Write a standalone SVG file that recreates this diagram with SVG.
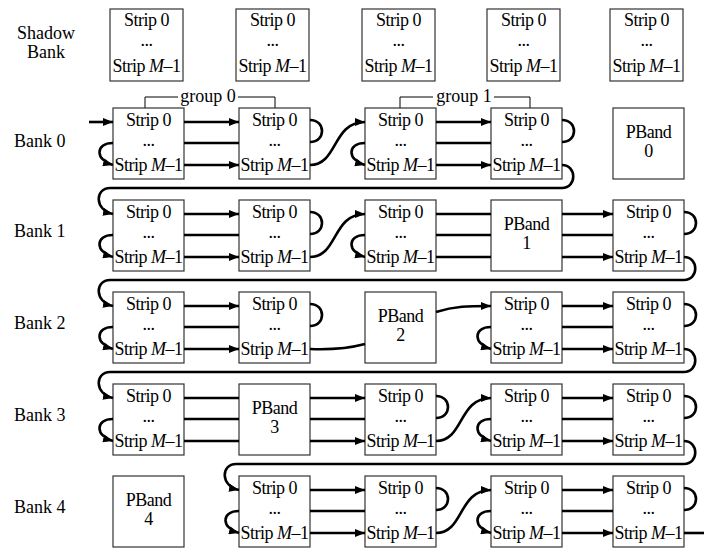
<svg xmlns="http://www.w3.org/2000/svg" width="704" height="548" viewBox="0 0 704 548" font-family="'Liberation Serif', 'DejaVu Serif', 'Times New Roman', serif">
<style>
.box{fill:#fff;stroke:#333;stroke-width:1.2}
.t{font-family:'Liberation Serif','DejaVu Serif','Times New Roman',serif;font-size:18px;text-anchor:middle;letter-spacing:-0.5px;fill:#000}
.lb{font-family:'Liberation Serif','DejaVu Serif','Times New Roman',serif;font-size:18px;fill:#000}
.c{fill:none;stroke:#000;stroke-width:2.6}
.a{marker-end:url(#ah)}
.br{fill:none;stroke:#000;stroke-width:1}
</style>
<defs>
<marker id="ah" viewBox="0 0 10 8" refX="10" refY="4" markerWidth="10" markerHeight="8" markerUnits="userSpaceOnUse" orient="auto"><path d="M0,0 L10,4 L0,8 z" fill="#000"/></marker>
</defs>
<rect width="704" height="548" fill="#fff"/>

<g id="labels">
<text class="lb" x="46" y="39" text-anchor="middle">Shadow</text>
<text class="lb" x="46" y="58" text-anchor="middle">Bank</text>
<text class="lb" x="14" y="147">Bank 0</text>
<text class="lb" x="14" y="237">Bank 1</text>
<text class="lb" x="14" y="329">Bank 2</text>
<text class="lb" x="14" y="421">Bank 3</text>
<text class="lb" x="14" y="513">Bank 4</text>
</g>

<g id="group0">
<path class="br" d="M145,108 V97 H178 M238,97 H275 V108"/>
<text class="lb" x="208" y="102" text-anchor="middle">group 0</text>
</g>
<g id="group1">
<path class="br" d="M400,108 V97 H433 M494,97 H530 V108"/>
<text class="lb" x="464" y="102" text-anchor="middle">group 1</text>
</g>

<g id="sh0"><rect class="box" x="110" y="9" width="73" height="72"/><text class="t" x="146.5" y="26">Strip 0</text><text class="t" x="146.5" y="46">...</text><text class="t" x="146.5" y="72">Strip <tspan font-style="italic">M</tspan>–1</text></g>
<g id="sh1"><rect class="box" x="236" y="9" width="73" height="72"/><text class="t" x="272.5" y="26">Strip 0</text><text class="t" x="272.5" y="46">...</text><text class="t" x="272.5" y="72">Strip <tspan font-style="italic">M</tspan>–1</text></g>
<g id="sh2"><rect class="box" x="362" y="9" width="73" height="72"/><text class="t" x="398.5" y="26">Strip 0</text><text class="t" x="398.5" y="46">...</text><text class="t" x="398.5" y="72">Strip <tspan font-style="italic">M</tspan>–1</text></g>
<g id="sh3"><rect class="box" x="487" y="9" width="73" height="72"/><text class="t" x="523.5" y="26">Strip 0</text><text class="t" x="523.5" y="46">...</text><text class="t" x="523.5" y="72">Strip <tspan font-style="italic">M</tspan>–1</text></g>
<g id="sh4"><rect class="box" x="610" y="9" width="73" height="72"/><text class="t" x="646.5" y="26">Strip 0</text><text class="t" x="646.5" y="46">...</text><text class="t" x="646.5" y="72">Strip <tspan font-style="italic">M</tspan>–1</text></g>

<g id="b0c0"><rect class="box" x="113" y="108" width="71" height="71"/><text class="t" x="148.5" y="126">Strip 0</text><text class="t" x="148.5" y="146">...</text><text class="t" x="148.5" y="171">Strip <tspan font-style="italic">M</tspan>–1</text></g>
<g id="b0c1"><rect class="box" x="239" y="108" width="71" height="71"/><text class="t" x="274.5" y="126">Strip 0</text><text class="t" x="274.5" y="146">...</text><text class="t" x="274.5" y="171">Strip <tspan font-style="italic">M</tspan>–1</text></g>
<g id="b0c2"><rect class="box" x="365" y="108" width="71" height="71"/><text class="t" x="400.5" y="126">Strip 0</text><text class="t" x="400.5" y="146">...</text><text class="t" x="400.5" y="171">Strip <tspan font-style="italic">M</tspan>–1</text></g>
<g id="b0c3"><rect class="box" x="491" y="108" width="71" height="71"/><text class="t" x="526.5" y="126">Strip 0</text><text class="t" x="526.5" y="146">...</text><text class="t" x="526.5" y="171">Strip <tspan font-style="italic">M</tspan>–1</text></g>
<g id="pband0"><rect class="box" x="613" y="108" width="71" height="71"/><text class="t" x="648.5" y="138">PBand</text><text class="t" x="648.5" y="157">0</text></g>

<g id="b1c0"><rect class="box" x="113" y="200" width="71" height="71"/><text class="t" x="148.5" y="218">Strip 0</text><text class="t" x="148.5" y="238">...</text><text class="t" x="148.5" y="263">Strip <tspan font-style="italic">M</tspan>–1</text></g>
<g id="b1c1"><rect class="box" x="239" y="200" width="71" height="71"/><text class="t" x="274.5" y="218">Strip 0</text><text class="t" x="274.5" y="238">...</text><text class="t" x="274.5" y="263">Strip <tspan font-style="italic">M</tspan>–1</text></g>
<g id="b1c2"><rect class="box" x="365" y="200" width="71" height="71"/><text class="t" x="400.5" y="218">Strip 0</text><text class="t" x="400.5" y="238">...</text><text class="t" x="400.5" y="263">Strip <tspan font-style="italic">M</tspan>–1</text></g>
<g id="pband1"><rect class="box" x="491" y="200" width="71" height="71"/><text class="t" x="526.5" y="230">PBand</text><text class="t" x="526.5" y="249">1</text></g>
<g id="b1c4"><rect class="box" x="613" y="200" width="71" height="71"/><text class="t" x="648.5" y="218">Strip 0</text><text class="t" x="648.5" y="238">...</text><text class="t" x="648.5" y="263">Strip <tspan font-style="italic">M</tspan>–1</text></g>

<g id="b2c0"><rect class="box" x="113" y="292" width="71" height="71"/><text class="t" x="148.5" y="310">Strip 0</text><text class="t" x="148.5" y="330">...</text><text class="t" x="148.5" y="355">Strip <tspan font-style="italic">M</tspan>–1</text></g>
<g id="b2c1"><rect class="box" x="239" y="292" width="71" height="71"/><text class="t" x="274.5" y="310">Strip 0</text><text class="t" x="274.5" y="330">...</text><text class="t" x="274.5" y="355">Strip <tspan font-style="italic">M</tspan>–1</text></g>
<g id="pband2"><rect class="box" x="365" y="292" width="71" height="71"/><text class="t" x="400.5" y="322">PBand</text><text class="t" x="400.5" y="341">2</text></g>
<g id="b2c3"><rect class="box" x="491" y="292" width="71" height="71"/><text class="t" x="526.5" y="310">Strip 0</text><text class="t" x="526.5" y="330">...</text><text class="t" x="526.5" y="355">Strip <tspan font-style="italic">M</tspan>–1</text></g>
<g id="b2c4"><rect class="box" x="613" y="292" width="71" height="71"/><text class="t" x="648.5" y="310">Strip 0</text><text class="t" x="648.5" y="330">...</text><text class="t" x="648.5" y="355">Strip <tspan font-style="italic">M</tspan>–1</text></g>

<g id="b3c0"><rect class="box" x="113" y="384" width="71" height="71"/><text class="t" x="148.5" y="402">Strip 0</text><text class="t" x="148.5" y="422">...</text><text class="t" x="148.5" y="447">Strip <tspan font-style="italic">M</tspan>–1</text></g>
<g id="pband3"><rect class="box" x="239" y="384" width="71" height="71"/><text class="t" x="274.5" y="414">PBand</text><text class="t" x="274.5" y="433">3</text></g>
<g id="b3c2"><rect class="box" x="365" y="384" width="71" height="71"/><text class="t" x="400.5" y="402">Strip 0</text><text class="t" x="400.5" y="422">...</text><text class="t" x="400.5" y="447">Strip <tspan font-style="italic">M</tspan>–1</text></g>
<g id="b3c3"><rect class="box" x="491" y="384" width="71" height="71"/><text class="t" x="526.5" y="402">Strip 0</text><text class="t" x="526.5" y="422">...</text><text class="t" x="526.5" y="447">Strip <tspan font-style="italic">M</tspan>–1</text></g>
<g id="b3c4"><rect class="box" x="613" y="384" width="71" height="71"/><text class="t" x="648.5" y="402">Strip 0</text><text class="t" x="648.5" y="422">...</text><text class="t" x="648.5" y="447">Strip <tspan font-style="italic">M</tspan>–1</text></g>

<g id="pband4"><rect class="box" x="113" y="476" width="71" height="71"/><text class="t" x="148.5" y="506">PBand</text><text class="t" x="148.5" y="525">4</text></g>
<g id="b4c1"><rect class="box" x="239" y="476" width="71" height="71"/><text class="t" x="274.5" y="494">Strip 0</text><text class="t" x="274.5" y="514">...</text><text class="t" x="274.5" y="539">Strip <tspan font-style="italic">M</tspan>–1</text></g>
<g id="b4c2"><rect class="box" x="365" y="476" width="71" height="71"/><text class="t" x="400.5" y="494">Strip 0</text><text class="t" x="400.5" y="514">...</text><text class="t" x="400.5" y="539">Strip <tspan font-style="italic">M</tspan>–1</text></g>
<g id="b4c3"><rect class="box" x="491" y="476" width="71" height="71"/><text class="t" x="526.5" y="494">Strip 0</text><text class="t" x="526.5" y="514">...</text><text class="t" x="526.5" y="539">Strip <tspan font-style="italic">M</tspan>–1</text></g>
<g id="b4c4"><rect class="box" x="613" y="476" width="71" height="71"/><text class="t" x="648.5" y="494">Strip 0</text><text class="t" x="648.5" y="514">...</text><text class="t" x="648.5" y="539">Strip <tspan font-style="italic">M</tspan>–1</text></g>

<g id="connectors">
<path class="c a" d="M89,122 H113"/>
<path class="c a" d="M184,122 H239"/><path class="c" d="M184,143 H239"/><path class="c a" d="M184,165 H239"/>
<path class="c a" d="M113,143 C95,143 95,160 113,165"/>
<path class="c" d="M310,120 C326,120 326,142 310,142"/>
<path class="c a" d="M310,165 C338,165 332,122 365,122"/>
<path class="c a" d="M365,143 C347,143 347,160 365,165"/>
<path class="c a" d="M436,122 H491"/><path class="c" d="M436,143 H491"/><path class="c a" d="M436,165 H491"/>
<path class="c" d="M562,120 C578,120 578,142 562,142"/>
<path class="c a" d="M562,165 C577,165 577,188 562,188 H110 C95,188 94,210 113,214"/>
<path class="c a" d="M113,235 C95,235 95,252 113,257"/>
<path class="c a" d="M184,214 H239"/><path class="c" d="M184,235 H239"/><path class="c a" d="M184,257 H239"/>
<path class="c" d="M310,212 C326,212 326,234 310,234"/>
<path class="c a" d="M310,257 C338,257 332,214 365,214"/>
<path class="c a" d="M365,235 C347,235 347,252 365,257"/>
<path class="c" d="M436,214 H491 M436,235 H491 M436,257 H491"/>
<path class="c a" d="M562,214 H613"/><path class="c" d="M562,235 H613"/><path class="c a" d="M562,257 H613"/>
<path class="c" d="M684,212 C700,212 700,234 684,234"/>
<path class="c a" d="M684,257 C699,257 699,280 684,280 H110 C95,280 94,302 113,306"/>
<path class="c a" d="M113,327 C95,327 95,344 113,349"/>
<path class="c a" d="M184,306 H239"/><path class="c" d="M184,327 H239"/><path class="c a" d="M184,349 H239"/>
<path class="c" d="M310,304 C326,304 326,326 310,326"/>
<path class="c" d="M310,349 C335,350 350,348 365,344"/>
<path class="c a" d="M436,312 C455,306 468,306 491,306"/>
<path class="c a" d="M491,327 C473,327 473,344 491,349"/>
<path class="c a" d="M562,306 H613"/><path class="c" d="M562,327 H613"/><path class="c a" d="M562,349 H613"/>
<path class="c" d="M684,304 C700,304 700,326 684,326"/>
<path class="c a" d="M684,349 C699,349 699,372 684,372 H110 C95,372 94,394 113,398"/>
<path class="c a" d="M113,419 C95,419 95,436 113,441"/>
<path class="c" d="M184,398 H239 M184,419 H239 M184,441 H239"/>
<path class="c a" d="M310,398 H365"/><path class="c" d="M310,419 H365"/><path class="c a" d="M310,441 H365"/>
<path class="c" d="M436,396 C452,396 452,418 436,418"/>
<path class="c a" d="M436,441 C464,441 458,398 491,398"/>
<path class="c a" d="M491,419 C473,419 473,436 491,441"/>
<path class="c a" d="M562,398 H613"/><path class="c" d="M562,419 H613"/><path class="c a" d="M562,441 H613"/>
<path class="c" d="M684,396 C700,396 700,418 684,418"/>
<path class="c a" d="M684,441 C699,441 699,464 684,464 H236 C221,464 220,486 239,490"/>
<path class="c a" d="M239,511 C221,511 221,528 239,533"/>
<path class="c a" d="M310,490 H365"/><path class="c" d="M310,511 H365"/><path class="c a" d="M310,533 H365"/>
<path class="c" d="M436,488 C452,488 452,510 436,510"/>
<path class="c a" d="M436,533 C464,533 458,490 491,490"/>
<path class="c a" d="M491,511 C473,511 473,528 491,533"/>
<path class="c a" d="M562,490 H613"/><path class="c" d="M562,511 H613"/><path class="c a" d="M562,533 H613"/>
<path class="c" d="M684,488 C700,488 700,510 684,510"/>
<path class="c" d="M684,533 H704"/>
</g>
</svg>
